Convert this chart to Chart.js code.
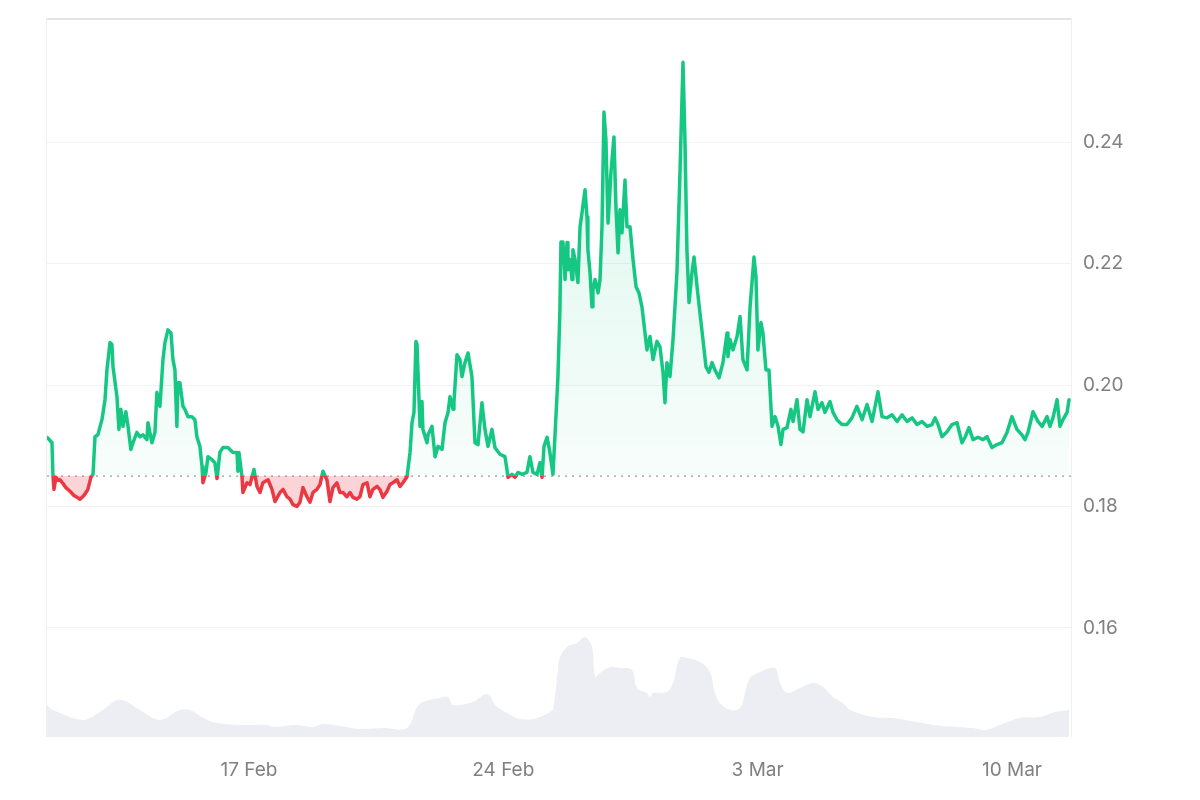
<!DOCTYPE html>
<html>
<head>
<meta charset="utf-8">
<script src="https://cdn.jsdelivr.net/npm/chart.js@4.4.1/dist/chart.umd.min.js"></script>
<style>
  html, body { margin: 0; padding: 0; background: #fff; }
  #wrap { width: 1200px; height: 800px; }
</style>
</head>
<body>
<div id="wrap"><canvas id="priceChart" width="1200" height="800"></canvas></div>
<script>
// time in hours since 11 Feb 00:00
const hours = [
  10.6, 12.5, 13.9, 14.5, 15.2, 16.5, 17.8, 19.1, 21.1, 23.1,
  25.8, 28.4, 30.4, 32.4, 35.0, 37.6, 39.6, 41.0, 42.3, 44.2,
  46.9, 48.9, 50.2, 52.2, 53.5, 54.2, 56.8, 58.1, 59.4, 60.8,
  62.7, 64.1, 66.0, 67.4, 70.0, 72.0, 74.0, 76.6, 77.3, 79.9,
  81.9, 83.2, 85.2, 87.2, 88.5, 90.5, 92.5, 93.8, 95.1, 96.4,
  97.1, 98.4, 100.4, 101.7, 103.7, 106.3, 108.3, 109.6, 111.6, 113.0,
  113.6, 115.6, 116.9, 119.6, 121.5, 122.9, 124.8, 126.8, 130.1, 133.4,
  136.1, 136.7, 137.4, 139.4, 140.0, 142.7, 144.7, 147.3, 149.3, 151.3,
  153.2, 156.6, 159.2, 161.2, 164.5, 166.5, 169.1, 171.1, 173.1, 175.7,
  177.7, 179.7, 182.3, 184.3, 186.3, 188.9, 190.9, 192.9, 195.5, 197.5,
  199.5, 202.1, 204.1, 206.1, 208.7, 210.7, 212.7, 215.3, 217.3, 219.3,
  222.0, 223.9, 225.9, 228.6, 230.5, 232.5, 235.2, 237.1, 239.1, 241.8,
  243.8, 245.7, 248.4, 250.4, 251.7, 253.0, 254.3, 255.0, 255.6, 257.0,
  258.3, 258.9, 261.6, 262.3, 264.9, 266.9, 268.9, 271.5, 273.5, 275.5,
  276.8, 278.8, 279.4, 281.4, 283.4, 284.7, 286.7, 288.7, 291.3, 293.3,
  295.3, 297.9, 299.9, 301.9, 304.5, 306.5, 309.8, 313.1, 314.4, 315.1,
  317.7, 319.7, 321.7, 324.3, 327.6, 329.6, 331.6, 334.3, 336.2, 337.6,
  338.9, 340.9, 342.8, 344.8, 346.1, 348.1, 349.4, 350.1, 351.4, 352.8,
  354.1, 354.7, 356.1, 357.4, 358.0, 359.4, 361.3, 362.7, 364.0, 366.0,
  367.3, 367.9, 369.3, 370.6, 371.2, 372.6, 374.6, 375.9, 377.2, 378.5,
  379.8, 381.2, 383.1, 385.1, 386.4, 387.8, 389.1, 390.4, 392.4, 393.7,
  395.7, 397.7, 399.7, 401.6, 403.6, 405.6, 406.9, 408.9, 410.9, 413.5,
  415.5, 417.5, 418.8, 420.1, 422.1, 424.1, 426.7, 428.7, 430.7, 432.0,
  433.3, 434.7, 436.6, 438.0, 440.0, 441.9, 443.9, 445.9, 447.9, 449.9,
  451.8, 454.5, 457.1, 459.8, 460.4, 461.8, 463.7, 466.4, 468.4, 470.3,
  473.0, 475.0, 477.6, 478.9, 480.2, 482.2, 483.5, 485.5, 487.5, 489.5,
  491.5, 493.5, 495.4, 496.8, 499.4, 502.0, 503.4, 506.0, 508.0, 510.0,
  512.6, 514.6, 517.9, 519.9, 522.5, 524.5, 527.8, 529.8, 532.4, 535.7,
  539.0, 542.3, 545.6, 549.0, 552.3, 555.6, 559.5, 562.2, 565.5, 568.8,
  572.1, 575.4, 578.7, 582.0, 585.3, 588.6, 591.9, 595.2, 597.2, 599.2,
  601.8, 605.1, 608.4, 611.7, 615.0, 617.0, 619.6, 622.3, 625.6, 628.9,
  631.5, 634.8, 638.1, 641.4, 644.7, 648.0, 651.3, 654.6, 656.6, 658.6,
  661.9, 665.2, 667.9, 671.2, 673.1, 675.1, 677.8, 679.7, 681.7, 684.4, 685.7
];

const prices = [
  .1914, .1909, .1905, .1853, .1828, .1848, .1843, .1844, .1838, .1831,
  .1825, .1818, .1815, .1812, .1818, .1828, .1848, .1853, .1915, .1918,
  .1943, .1976, .2025, .2070, .2067, .2030, .1981, .1927, .1960, .1932,
  .1956, .1932, .1894, .1905, .1922, .1915, .1918, .1910, .1938, .1905,
  .1922, .1988, .1965, .2042, .2070, .2091, .2086, .2042, .2025, .1932,
  .2004, .2004, .1965, .1960, .1948, .1948, .1943, .1915, .1899, .1866,
  .1839, .1856, .1882, .1877, .1872, .1846, .1889, .1897, .1897, .1889,
  .1889, .1858, .1889, .1849, .1823, .1839, .1836, .1861, .1833, .1823,
  .1839, .1844, .1828, .1808, .1823, .1828, .1816, .1812, .1803, .1800,
  .1807, .1831, .1816, .1807, .1823, .1828, .1836, .1858, .1844, .1808,
  .1831, .1839, .1823, .1823, .1816, .1823, .1815, .1812, .1816, .1836,
  .1839, .1816, .1828, .1833, .1828, .1815, .1825, .1836, .1839, .1844,
  .1833, .1839, .1849, .1889, .1938, .1955, .2072, .2067, .2025, .1932,
  .1973, .1927, .1905, .1918, .1932, .1882, .1899, .1894, .1938, .1955,
  .1981, .1960, .1971, .2050, .2042, .2014, .2037, .2053, .2014, .1905,
  .1902, .1971, .1927, .1899, .1927, .1897, .1886, .1882, .1861, .1848,
  .1853, .1848, .1856, .1853, .1856, .1882, .1856, .1853, .1872, .1848,
  .1899, .1914, .1889, .1853, .1915, .2014, .2124, .2236, .2236, .2174,
  .2235, .2190, .2207, .2174, .2223, .2207, .2169, .2261, .2284, .2322,
  .2277, .2223, .2185, .2129, .2157, .2174, .2152, .2174, .2261, .2450,
  .2404, .2267, .2350, .2409, .2294, .2218, .2289, .2251, .2338, .2261,
  .2261, .2207, .2162, .2152, .2129, .2086, .2058, .2080, .2042, .2072,
  .2063, .2021, .1971, .2037, .2014, .2075, .2185, .2350, .2532, .2404,
  .2223, .2136, .2185, .2211, .2162, .2119, .2075, .2030, .2021, .2037,
  .2025, .2012, .2037, .2086, .2047, .2075, .2058, .2080, .2113, .2042,
  .2025, .2129, .2211, .2179, .2058, .2103, .2086, .2025, .2025, .1932,
  .1948, .1932, .1902, .1927, .1930, .1960, .1940, .1976, .1927, .1923,
  .1976, .1948, .1989, .1960, .1971, .1955, .1973, .1955, .1943, .1935,
  .1935, .1946, .1965, .1943, .1968, .1940, .1989, .1948, .1946, .1951,
  .1940, .1951, .1940, .1946, .1935, .1940, .1932, .1935, .1946, .1935,
  .1915, .1923, .1935, .1938, .1905, .1914, .1930, .1910, .1914, .1910,
  .1915, .1897, .1902, .1905, .1922, .1948, .1927, .1918, .1910, .1922,
  .1956, .1940, .1932, .1948, .1932, .1946, .1976, .1932, .1943, .1955, .1976
];

// volume (millions), same time base
const volHours = [
  10.6, 14.5, 34.3, 45.6, 56.8, 63.4, 72.0, 85.2, 98.4, 105.0,
  116.3, 122.9, 138.1, 155.9, 159.9, 175.7, 186.3, 192.9, 204.1, 217.3,
  232.5, 248.4, 255.0, 258.9, 270.2, 275.5, 278.8, 292.0, 301.2, 307.8,
  314.4, 323.0, 331.6, 336.2, 342.8, 344.8, 348.1, 349.4, 354.1, 360.7,
  366.0, 370.6, 372.6, 375.9, 382.5, 389.1, 397.0, 400.3, 406.9, 408.9,
  410.9, 420.1, 424.1, 428.7, 434.0, 441.9, 448.5, 451.8, 455.1, 461.8,
  468.4, 471.7, 475.0, 481.6, 491.5, 494.8, 499.4, 508.0, 516.6, 523.2,
  529.8, 536.4, 541.0, 556.2, 569.4, 585.3, 595.9, 611.7, 622.3, 630.2,
  640.1, 653.3, 666.5, 676.4, 685.7
];
const volumes = [
  17.8, 15.0, 9.5, 13.9, 20.6, 19.5, 15.0, 9.5, 15.0, 15.0,
  9.5, 7.8, 6.7, 6.7, 5.6, 6.7, 5.6, 7.2, 6.1, 4.5,
  5.0, 5.0, 16.7, 19.5, 21.7, 22.3, 17.8, 19.5, 23.9, 16.7,
  13.4, 10.0, 10.0, 11.1, 13.9, 15.0, 37.3, 44.5, 50.1, 52.3,
  55.6, 50.1, 33.4, 35.6, 38.9, 38.4, 37.3, 27.3, 24.5, 22.3,
  24.5, 25.0, 30.0, 43.9, 43.9, 41.7, 36.2, 24.5, 18.9, 15.0,
  16.1, 24.5, 32.8, 36.2, 38.4, 30.0, 24.5, 27.3, 30.0, 27.8,
  22.3, 18.9, 15.0, 11.1, 10.6, 8.3, 6.7, 5.6, 5.0, 3.9,
  6.7, 10.6, 11.1, 13.9, 15.0
];

const baseline = 0.185;
const yTicks = [0.16, 0.18, 0.20, 0.22, 0.24];
const xTickHours = [144, 312, 480, 648];
const xTickLabels = ['17 Feb', '24 Feb', '3 Mar', '10 Mar'];

const green = '#16c784';
const red = '#ea3943';

function basePos(chart) {
  const a = chart.chartArea;
  const y = chart.scales.y.getPixelForValue(baseline);
  return Math.min(Math.max((y - a.top) / (a.bottom - a.top), 0), 1);
}

// one stroke, green above the start price and red below it
function lineStroke(c) {
  const chart = c.chart;
  if (!chart.chartArea || !chart.scales.y) return green;
  const a = chart.chartArea;
  const f = basePos(chart);
  const g = chart.ctx.createLinearGradient(0, a.top, 0, a.bottom);
  g.addColorStop(0, green);
  g.addColorStop(f, green);
  g.addColorStop(f, red);
  g.addColorStop(1, red);
  return g;
}

function greenFill(c) {
  const chart = c.chart;
  if (!chart.chartArea || !chart.scales.y) return 'rgba(22,199,132,0.08)';
  const a = chart.chartArea;
  const yb = chart.scales.y.getPixelForValue(baseline);
  const g = chart.ctx.createLinearGradient(0, a.top, 0, yb);
  g.addColorStop(0, 'rgba(22,199,132,0.18)');
  g.addColorStop(1, 'rgba(22,199,132,0.03)');
  return g;
}

const frame = {
  id: 'frame',
  beforeDatasetsDraw(chart) {
    const {ctx, chartArea: a} = chart;
    ctx.save();
    ctx.strokeStyle = '#f0f0f0';
    ctx.lineWidth = 1;
    ctx.beginPath();
    ctx.moveTo(a.left - 0.5, a.top);
    ctx.lineTo(a.left - 0.5, a.bottom);
    ctx.moveTo(a.right + 0.5, a.top);
    ctx.lineTo(a.right + 0.5, a.bottom);
    ctx.stroke();
    ctx.strokeStyle = '#e4e4e4';
    ctx.lineWidth = 2;
    ctx.beginPath();
    ctx.moveTo(a.left, a.top + 1);
    ctx.lineTo(a.right, a.top + 1);
    ctx.stroke();
    ctx.restore();
  }
};

new Chart(document.getElementById('priceChart'), {
  type: 'line',
  data: {
    datasets: [{
      label: 'Price',
      data: hours.map((h, i) => ({x: h, y: prices[i]})),
      borderColor: lineStroke,
      backgroundColor: greenFill,
      borderWidth: 3.5,
      borderJoinStyle: 'round',
      borderCapStyle: 'round',
      pointRadius: 0,
      tension: 0,
      fill: {target: {value: baseline}, below: 'rgba(234,57,67,0.22)'},
      order: 0
    }, {
      label: 'Base',
      data: [{x: 10.6, y: baseline}, {x: 687, y: baseline}],
      borderColor: '#9a9a9a',
      borderWidth: 1.2,
      borderDash: [2, 5],
      pointRadius: 0,
      fill: false,
      order: 1
    }, {
      label: 'Volume',
      data: volHours.map((h, i) => ({x: h, y: volumes[i]})),
      yAxisID: 'yv',
      borderWidth: 0,
      borderColor: 'rgba(0,0,0,0)',
      backgroundColor: '#eceef3',
      pointRadius: 0,
      tension: 0.35,
      fill: 'origin',
      order: 2
    }]
  },
  options: {
    responsive: false,
    animation: false,
    devicePixelRatio: 1,
    layout: {padding: {left: 47, top: 18, right: 0, bottom: 0}},
    scales: {
      x: {
        type: 'linear',
        min: 10.6,
        max: 687,
        afterBuildTicks: s => { s.ticks = xTickHours.map(v => ({value: v})); },
        afterFit: s => { s.height = 63; s.paddingLeft = 0; s.paddingRight = 0; },
        grid: {display: false, drawTicks: false},
        border: {display: false},
        ticks: {
          padding: 22,
          color: '#808080',
          font: {family: 'Inter', size: 19},
          callback: (v) => xTickLabels[xTickHours.indexOf(v)] || ''
        }
      },
      y: {
        position: 'right',
        min: 0.142,
        max: 0.2605,
        afterBuildTicks: s => { s.ticks = yTicks.map(v => ({value: v})); },
        afterFit: s => { s.width = 129; s.paddingTop = 0; s.paddingBottom = 0; },
        grid: {color: '#f2f2f2', drawTicks: false},
        border: {display: false},
        ticks: {
          padding: 12,
          color: '#808080',
          font: {family: 'Inter', size: 19},
          callback: v => v.toFixed(2)
        }
      },
      yv: {
        display: false,
        min: 0,
        max: 400
      }
    },
    plugins: {
      legend: {display: false},
      tooltip: {enabled: false}
    }
  },
  plugins: [frame]
});
</script>
</body>
</html>
